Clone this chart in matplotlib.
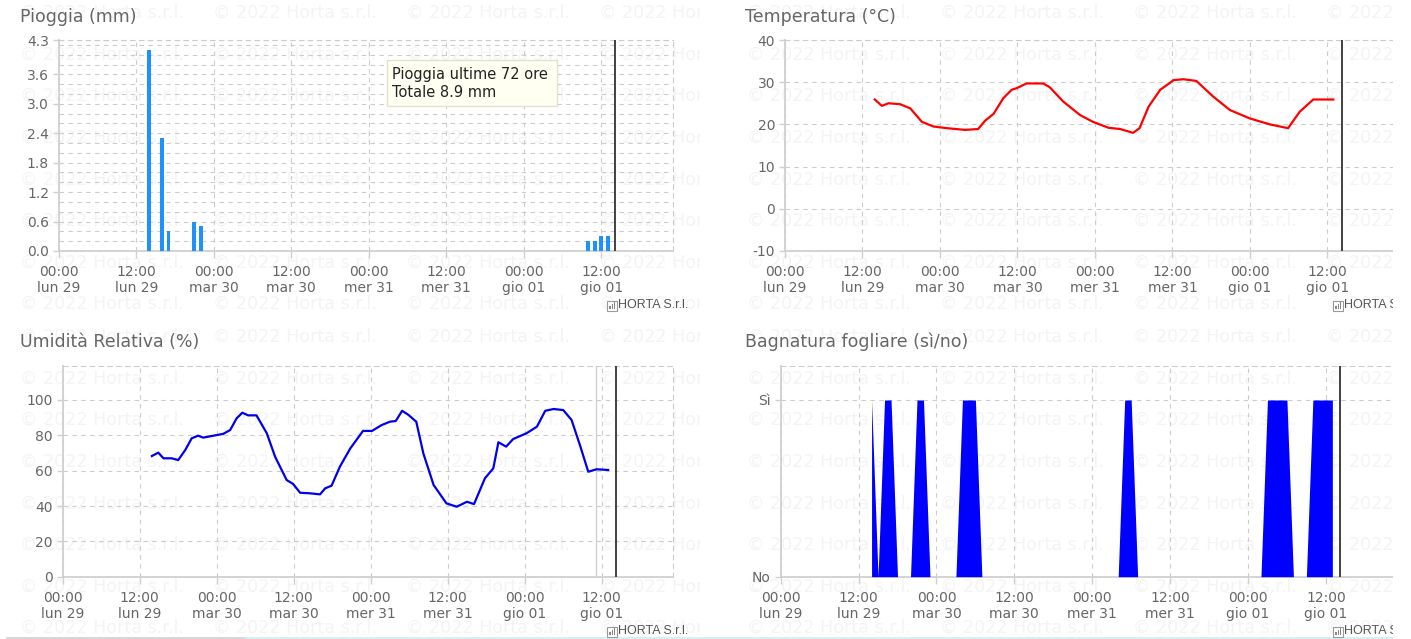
import matplotlib
matplotlib.use("Agg")
import matplotlib.pyplot as plt
import numpy as np
from matplotlib.patches import Rectangle
from matplotlib.lines import Line2D
from matplotlib.transforms import Bbox, TransformedBbox

plt.rcParams['font.family'] = ['DejaVu Sans']
plt.rcParams['axes.unicode_minus'] = False

W, H = 1411, 639

# ---- data (hours from 00:00 lun 29) ----
tick_hours = [0, 12, 24, 36, 48, 60, 72, 84]
tick_labels = ["00:00\nlun 29", "12:00\nlun 29", "00:00\nmar 30", "12:00\nmar 30",
               "00:00\nmer 31", "12:00\nmer 31", "00:00\ngio 01", "12:00\ngio 01"]
now_hour = 86.2

rain_hours = [14, 16, 17, 21, 22, 82, 83, 84, 85]
rain_mm = [4.1, 2.3, 0.4, 0.6, 0.5, 0.2, 0.2, 0.3, 0.3]
rain_total = 8.9

temp_hours = [13.9, 15.0, 16.0, 17.8, 19.4, 21.2, 23.0, 25.1, 27.9, 29.9, 31.0, 32.3,
              33.8, 35.1, 35.9, 37.4, 40.0, 41.0, 43.1, 45.7, 47.7, 50.1, 51.9, 53.9,
              54.9, 56.3, 58.1, 60.2, 61.7, 63.7, 66.3, 68.9, 72.0, 75.1, 77.9, 79.7,
              81.8, 84.9]
temp_c = [25.9, 24.4, 25.0, 24.8, 23.8, 20.6, 19.5, 19.1, 18.7, 18.9, 20.9, 22.5,
          26.2, 28.2, 28.6, 29.7, 29.7, 28.8, 25.4, 22.2, 20.6, 19.2, 18.9, 18.0,
          19.1, 24.2, 28.2, 30.5, 30.7, 30.3, 26.6, 23.4, 21.4, 20.0, 19.1, 23.0,
          25.9, 25.9]

hum_hours = [13.9, 14.9, 15.7, 17.0, 18.0, 19.1, 20.1, 21.1, 21.9, 23.5, 25.0, 26.1,
             27.1, 28.0, 28.9, 30.2, 31.8, 33.1, 34.9, 35.9, 37.0, 38.5, 40.1, 40.9,
             41.9, 43.2, 44.8, 46.8, 48.2, 49.7, 51.0, 51.9, 52.9, 53.9, 55.1, 56.2,
             57.8, 59.8, 61.4, 63.0, 64.1, 65.8, 67.1, 67.9, 69.1, 70.2, 72.3, 73.9,
             75.2, 76.5, 78.0, 79.3, 80.6, 81.9, 83.2, 85.0]
hum_pct = [68.3, 70.2, 67.0, 67.0, 66.0, 71.7, 78.3, 79.8, 78.7, 79.8, 80.8, 83.0,
           89.6, 92.8, 91.3, 91.3, 81.2, 67.9, 54.7, 52.5, 47.5, 47.2, 46.6, 50.0,
           51.5, 62.3, 72.5, 82.5, 82.5, 85.8, 87.7, 88.1, 93.9, 91.5, 87.7, 69.8,
           51.9, 41.5, 39.6, 42.4, 41.1, 55.7, 61.3, 76.1, 73.6, 77.9, 81.2, 84.9,
           93.9, 94.9, 94.3, 88.7, 74.5, 59.4, 60.8, 60.4]
hum_cursor_hour = 83.1

wet_first, wet_last = 14, 85
wet_on_hours = [14, 16, 17, 21, 22, 28, 29, 30, 53, 54, 75, 76, 77, 78, 82, 83, 84, 85]

GRID = '#cccccc'
TXT = '#666666'

fig = plt.figure(figsize=(W / 100, H / 100), dpi=100)
fig.patch.set_facecolor('white')


def add_px_axes(l, t, r, b):
    return fig.add_axes([l / W, 1 - b / H, (r - l) / W, (b - t) / H])


def watermark(x0, y0, ncols, nrows, clip):
    cx0, cy0, cx1, cy1 = clip
    box = TransformedBbox(Bbox.from_extents(cx0 / W, 1 - cy1 / H, cx1 / W, 1 - cy0 / H),
                          fig.transFigure)
    for i in range(nrows):
        for j in range(ncols):
            t = fig.text((x0 + j * 193) / W, 1 - (y0 + i * 41.6) / H, "\u00a9 2022 Horta s.r.l.",
                         fontsize=12.6, color='#f4f4f4', ha='left', va='center', zorder=-5)
            t.set_clip_box(box)
            t.set_clip_on(True)


def credit(x, y):
    # small chart icon + text
    fig.patches.append(Rectangle((x / W, 1 - (y + 5.5) / H), 10 / W, 10 / H, transform=fig.transFigure,
                                 facecolor='white', edgecolor='#999999', lw=0.8, zorder=2))
    for k, hh in enumerate([3, 5, 7]):
        fig.patches.append(Rectangle(((x + 2.2 + k * 2.3) / W, 1 - (y + 4) / H), 1.4 / W, hh / H,
                                     transform=fig.transFigure, facecolor='#888888',
                                     edgecolor='none', zorder=2))
    fig.text((x + 11.5) / W, 1 - y / H, "HORTA S.r.l.", fontsize=9, color='#555555',
             family='Liberation Sans', ha='left', va='center')


def style_axes(ax, xmax):
    ax.set_facecolor('none')
    ax.set_xlim(0, xmax)
    ax.set_xticks(tick_hours)
    ax.set_xticklabels(tick_labels)
    for s in ['left', 'bottom']:
        ax.spines[s].set_color('#d0d0d0')
        ax.spines[s].set_linewidth(1.3)
    for s in ['top', 'right']:
        ax.spines[s].set_color(GRID)
        ax.spines[s].set_linewidth(0.8)
        ax.spines[s].set_linestyle((0, (4, 4)))
    ax.tick_params(axis='x', length=5, width=1, color='#d0d0d0', pad=5, labelsize=10, labelcolor=TXT)
    ax.tick_params(axis='y', length=4, width=1, color='#d0d0d0', pad=3, labelsize=10, labelcolor=TXT)
    ax.grid(True, which='major', color=GRID, linestyle=(0, (4, 4)), linewidth=0.8)
    ax.set_axisbelow(True)
    ax.axvline(now_hour, color='#333333', lw=1.3, zorder=5)


# ---- Pioggia ----
ax1 = add_px_axes(58.7, 40, 673, 251)
watermark(20, 13, 4, 8, (0, 0, 700, 320))
style_axes(ax1, (673 - 58.7) / 6.458)
ax1.bar(rain_hours, rain_mm, width=0.6, color='#1e90ff', zorder=3)
ax1.set_ylim(0, 4.3)
ax1.set_yticks([0, 0.6, 1.2, 1.8, 2.4, 3.0, 3.6, 4.3])
ax1.set_yticklabels(["0.0", "0.6", "1.2", "1.8", "2.4", "3.0", "3.6", "4.3"])
ax1.set_yticks(np.arange(0.2, 4.3, 0.2), minor=True)
ax1.tick_params(axis='y', which='minor', length=0)
ax1.grid(True, which='minor', axis='y', color=GRID, linestyle=(0, (4, 4)), linewidth=0.8)
fig.text(20 / W, 1 - 17 / H, "Pioggia (mm)", fontsize=12.5, color=TXT, ha='left', va='center')
fig.patches.append(Rectangle((386.7 / W, 1 - 106 / H), (557 - 386.7) / W, 46 / H,
                             transform=fig.transFigure, facecolor='#fffff2',
                             edgecolor='#e2e2cc', lw=1, zorder=6))
fig.text(392 / W, 1 - 83.5 / H, "Pioggia ultime 72 ore\nTotale %.1f mm" % rain_total,
         fontsize=10.5, color='#222222', ha='left', va='center', linespacing=1.25, zorder=7)
credit(607, 305)

# ---- Temperatura ----
ax2 = add_px_axes(785, 40, 1400, 251)
watermark(747, 13, 4, 8, (727, 0, 1393, 320))
style_axes(ax2, (1400 - 785) / 6.458)
ax2.plot(temp_hours, temp_c, color='#ff0000', lw=1.6, zorder=3, solid_joinstyle='round')
ax2.set_ylim(-10, 40)
ax2.set_yticks([-10, 0, 10, 20, 30, 40])
fig.text(745 / W, 1 - 17 / H, "Temperatura (\u00b0C)", fontsize=12.5, color=TXT, ha='left', va='center')
credit(1333, 305)

# ---- Umidita ----
ax3 = add_px_axes(62.7, 365.7, 673, 576.7)
watermark(20, 337, 4, 8, (0, 320, 700, 639))
style_axes(ax3, (673 - 62.7) / 6.417)
ax3.axvline(hum_cursor_hour, color='#d0d0d0', lw=1, zorder=2)
ax3.plot(hum_hours, hum_pct, color='#0000ee', lw=1.6, zorder=3, solid_joinstyle='round')
ax3.set_ylim(0, 119.4)
ax3.set_yticks([0, 20, 40, 60, 80, 100])
fig.text(20 / W, 1 - 342 / H, "Umidit\u00e0 Relativa (%)", fontsize=12.5, color=TXT, ha='left', va='center')
credit(607, 631)

# ---- Bagnatura ----
ax4 = add_px_axes(780.7, 365.7, 1400, 576.7)
watermark(747, 337, 4, 8, (727, 320, 1393, 639))
style_axes(ax4, (1400 - 780.7) / 6.49)
wet_hours = np.arange(wet_first, wet_last + 1)
wet_vals = np.isin(wet_hours, wet_on_hours).astype(float)
ax4.fill_between(wet_hours, 0, wet_vals, color='#0000ff', lw=0, zorder=3)
ax4.set_ylim(0, 1.194)
ax4.set_yticks([0, 1])
ax4.set_yticklabels(["No", "S\u00ec"])
fig.text(745 / W, 1 - 342 / H, "Bagnatura fogliare (s\u00ec/no)", fontsize=12.5, color=TXT,
         ha='left', va='center')
credit(1333, 631)

# bottom strip and right clipping
fig.lines.append(Line2D([7 / W, 245 / W], [1 - 637.5 / H] * 2, transform=fig.transFigure,
                        color='#cfcfcf', lw=1.2))
fig.lines.append(Line2D([245 / W, 1], [1 - 637.5 / H] * 2, transform=fig.transFigure,
                        color='#cdeff0', lw=1.2))
fig.patches.append(Rectangle((1393 / W, 0), (W - 1393) / W, 1, transform=fig.transFigure,
                             facecolor='white', edgecolor='none', zorder=50))

fig.savefig('out.png', dpi=100, facecolor='white')
